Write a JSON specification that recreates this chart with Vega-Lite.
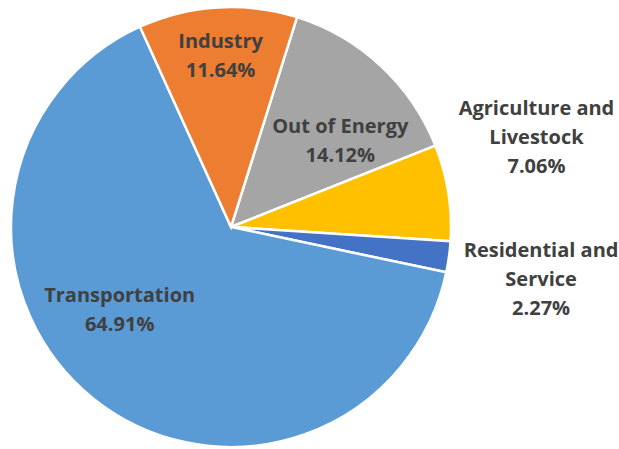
{
  "$schema": "https://vega.github.io/schema/vega-lite/v6.json",
  "width": 462,
  "height": 440,
  "autosize": {"type": "none"},
  "padding": {"left": 0, "top": 7, "right": 157, "bottom": 2},
  "background": "white",
  "data": {
    "values": [
      {"cat": "Out of Energy", "pct": 14.12, "ord": 1, "label": "Out of Energy\n14.12%"},
      {"cat": "Agriculture and Livestock", "pct": 7.06, "ord": 2, "label": "Agriculture and\nLivestock\n7.06%"},
      {"cat": "Residential and Service", "pct": 2.27, "ord": 3, "label": "Residential and\nService\n2.27%"},
      {"cat": "Transportation", "pct": 64.91, "ord": 4, "label": "Transportation\n64.91%"},
      {"cat": "Industry", "pct": 11.64, "ord": 5, "label": "Industry\n11.64%"}
    ]
  },
  "encoding": {
    "theta": {"field": "pct", "type": "quantitative", "stack": true, "scale": {"range": [0.305, 6.588]}},
    "order": {"field": "ord", "type": "quantitative"}
  },
  "layer": [
    {
      "mark": {"type": "arc", "stroke": "white", "strokeWidth": 2.5},
      "encoding": {
        "color": {
          "field": "cat", "type": "nominal", "legend": null,
          "scale": {
            "domain": ["Out of Energy", "Agriculture and Livestock", "Residential and Service", "Transportation", "Industry"],
            "range": ["#A5A5A5", "#FFC000", "#4472C4", "#5B9BD5", "#ED7D31"]
          }
        }
      }
    },
    {
      "mark": {"type": "text", "radius": 171, "dy": -14, "font": "Open Sans", "fontWeight": "bold", "fontSize": 20, "lineHeight": 29, "lineBreak": "\n", "color": "#404040", "align": "center", "baseline": "middle"},
      "encoding": {"text": {"condition": {"test": "datum.cat === 'Industry'", "field": "label", "type": "nominal"}, "value": ""}}
    },
    {
      "mark": {"type": "text", "radius": 140, "dx": 14, "dy": 3, "font": "Open Sans", "fontWeight": "bold", "fontSize": 20, "lineHeight": 29, "lineBreak": "\n", "color": "#404040", "align": "center", "baseline": "middle"},
      "encoding": {"text": {"condition": {"test": "datum.cat === 'Out of Energy'", "field": "label", "type": "nominal"}, "value": ""}}
    },
    {
      "mark": {"type": "text", "radius": 287, "dx": 22, "dy": -73, "font": "Open Sans", "fontWeight": "bold", "fontSize": 20, "lineHeight": 29, "lineBreak": "\n", "color": "#404040", "align": "center", "baseline": "middle"},
      "encoding": {"text": {"condition": {"test": "datum.cat === 'Agriculture and Livestock'", "field": "label", "type": "nominal"}, "value": ""}}
    },
    {
      "mark": {"type": "text", "radius": 313, "dy": -19, "font": "Open Sans", "fontWeight": "bold", "fontSize": 20, "lineHeight": 29, "lineBreak": "\n", "color": "#404040", "align": "center", "baseline": "middle"},
      "encoding": {"text": {"condition": {"test": "datum.cat === 'Residential and Service'", "field": "label", "type": "nominal"}, "value": ""}}
    },
    {
      "mark": {"type": "text", "radius": 138, "dx": -25, "dy": -39, "font": "Open Sans", "fontWeight": "bold", "fontSize": 20, "lineHeight": 29, "lineBreak": "\n", "color": "#404040", "align": "center", "baseline": "middle"},
      "encoding": {"text": {"condition": {"test": "datum.cat === 'Transportation'", "field": "label", "type": "nominal"}, "value": ""}}
    }
  ]
}
